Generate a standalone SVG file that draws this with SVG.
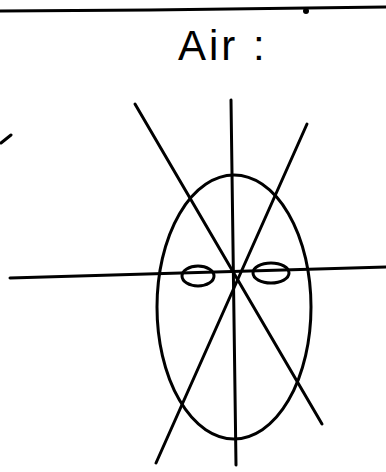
<svg xmlns="http://www.w3.org/2000/svg" width="386" height="472" viewBox="0 0 386 472">
<style>
.s{fill:none;stroke:#000;stroke-width:3;stroke-linecap:round}
.t{font-family:"Liberation Sans",Arial,sans-serif;font-size:42px;fill:#000}
</style>
<rect width="386" height="472" fill="#fff"/>
<g id="frame">
<path class="s" d="M0 11 L150 10 L386 7"/>
<circle cx="306" cy="11" r="3"/>
<path class="s" d="M1 143 L11 135"/>
</g>
<g id="title"><text class="t" x="178" y="60" letter-spacing="3">Air :</text></g>
<g id="connectors">
<line class="s" x1="231" y1="100" x2="236" y2="465"/>
<line class="s" x1="10" y1="278" x2="386" y2="267"/>
<line class="s" x1="135" y1="104" x2="322" y2="424"/>
<line class="s" x1="307" y1="124" x2="156" y2="463"/>
</g>
<g id="outer"><ellipse class="s" cx="234" cy="307" rx="77" ry="132"/></g>
<g id="lobeL"><ellipse class="s" cx="198" cy="276" rx="16" ry="10"/></g>
<g id="lobeR"><ellipse class="s" cx="271" cy="273" rx="18" ry="10"/></g>
</svg>
